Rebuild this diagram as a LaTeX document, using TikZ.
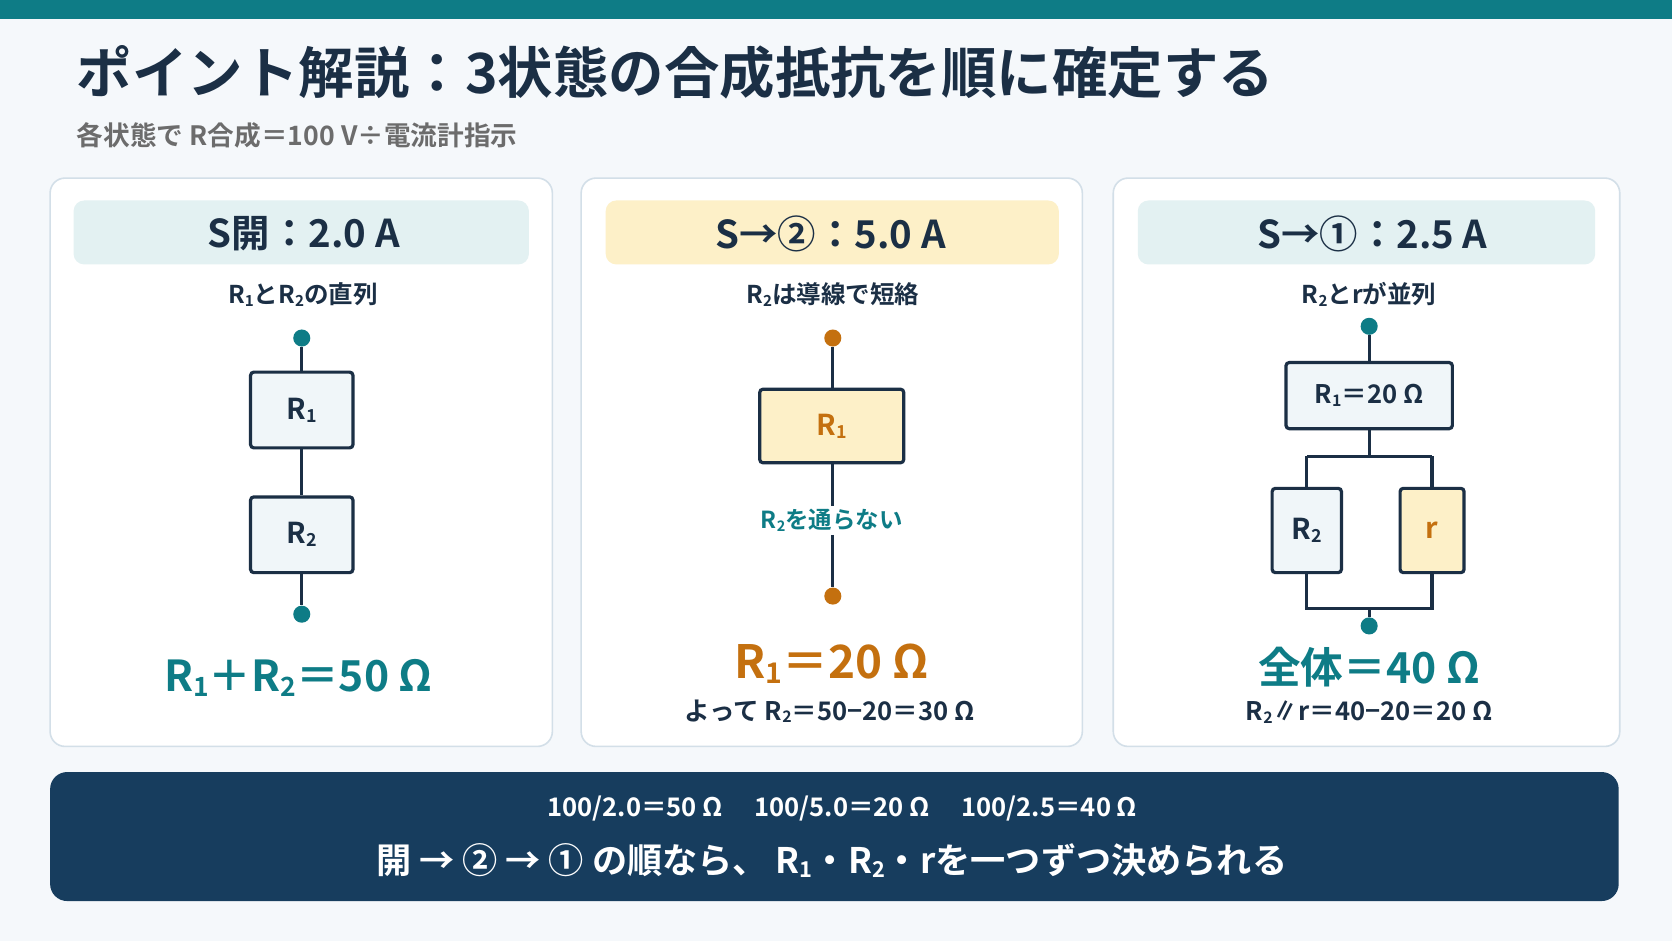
\documentclass[tikz,border=0pt]{standalone}
\usepackage{fontspec}
\setmainfont{Noto Sans CJK JP}[BoldFont={Noto Sans CJK JP Bold}]
\usepackage{graphicx}
\newcommand\sbx[1]{\raisebox{-0.2ex}{\scalebox{0.62}{#1}}}
\definecolor{teal}{HTML}{0E7C86}
\definecolor{navy}{HTML}{173D5E}
\definecolor{ink}{HTML}{1B2F45}
\definecolor{bg}{HTML}{F5F8FB}
\definecolor{hdrT}{HTML}{E3F1F2}
\definecolor{hdrY}{HTML}{FDF0C8}
\definecolor{orn}{HTML}{C4700F}
\definecolor{pborder}{HTML}{D3DFE8}
\definecolor{boxfill}{HTML}{F0F6F9}
\begin{document}
\begin{tikzpicture}[x=1pt,y=-1pt,font=\bfseries,
  panel/.style={draw=pborder,line width=1.5pt,fill=white,rounded corners=14pt},
  hdr/.style={rounded corners=10pt},
  res/.style={draw=ink,line width=3pt,fill=boxfill,rounded corners=3pt,font=\bfseries\fontsize{27}{27}\selectfont,text=ink},
  wire/.style={draw=ink,line width=3pt},
  dot/.style={circle,fill=teal,inner sep=0,minimum size=16pt},
  odot/.style={circle,fill=orn,inner sep=0,minimum size=16pt},
  txt/.style={text=ink,inner sep=0}]
\useasboundingbox (0,0) rectangle (1568,882);
\fill[bg] (0,0) rectangle (1568,882);
\fill[teal] (0,0) rectangle (1568,18);
\node[txt,anchor=west,font=\bfseries\fontsize{52}{52}\selectfont] (title) at (72,68) {ポイント解説：3状態の合成抵抗を順に確定する};
\node[anchor=west,inner sep=0,text=gray!85!black,font=\bfseries\fontsize{25}{25}\selectfont] (sub) at (72,127) {各状態で R合成＝100 V÷電流計指示};
% panels
\draw[panel] (47,167) rectangle (518,700);
\draw[panel] (545,167) rectangle (1015,700);
\draw[panel] (1044,167) rectangle (1519,700);
\fill[hdrT,hdr] (69,188) rectangle (496,248);
\fill[hdrY,hdr] (568,188) rectangle (993,248);
\fill[hdrT,hdr] (1067,188) rectangle (1496,248);
\node[txt,font=\bfseries\fontsize{36}{36}\selectfont] (h1) at (285,219) {S開：2.0 A};
\node[txt,font=\bfseries\fontsize{36}{36}\selectfont] (h2) at (779,219) {S→②：5.0 A};
\node[txt,font=\bfseries\fontsize{36}{36}\selectfont] (h3) at (1287,219) {S→①：2.5 A};
\node[txt,font=\bfseries\fontsize{23}{23}\selectfont] (s1) at (284,276) {R\sbx{1}とR\sbx{2}の直列};
\node[txt,font=\bfseries\fontsize{23}{23}\selectfont] (s2) at (781,276) {R\sbx{2}は導線で短絡};
\node[txt,font=\bfseries\fontsize{23}{23}\selectfont] (s3) at (1284,276) {R\sbx{2}とrが並列};
% panel 1
\node[dot] (a1) at (283,317) {};
\node[res,minimum width=96pt,minimum height=71pt] (r1) at (283,384.5) {R\sbx{1}};
\node[res,minimum width=96pt,minimum height=71pt] (r2) at (283,501.5) {R\sbx{2}};
\node[dot] (b1) at (283,576) {};
\draw[wire] (a1) -- (r1); \draw[wire] (r1) -- (r2); \draw[wire] (r2) -- (b1);
\node[inner sep=0,text=teal,font=\bfseries\fontsize{40}{40}\selectfont] (t1) at (280,636) {R\sbx{1}＋R\sbx{2}＝50 Ω};
% panel 2
\node[odot] (a2) at (781,317) {};
\node[res,fill=hdrY,text=orn,minimum width=135pt,minimum height=69pt] (q1) at (780,399.5) {R\sbx{1}};
\node[inner sep=3pt,fill=white,text=teal,font=\bfseries\fontsize{22}{22}\selectfont] (n2) at (780,488) {R\sbx{2}を通らない};
\node[odot] (b2) at (781,559) {};
\draw[wire] (a2) -- (a2|-q1.north); \draw[wire] (q1.south-|a2) -- (a2|-n2.north); \draw[wire] (a2|-n2.south) -- (b2);
\node[inner sep=0,text=orn,font=\bfseries\fontsize{43}{43}\selectfont] (t2) at (780,622) {R\sbx{1}＝20 Ω};
\node[txt,font=\bfseries\fontsize{24}{24}\selectfont] (u2) at (778,667) {よって R\sbx{2}＝50−20＝30 Ω};
% panel 3
\node[dot] (a3) at (1284,306) {};
\node[res,minimum width=156pt,minimum height=62pt,font=\bfseries\fontsize{24}{24}\selectfont] (p1) at (1284,371) {R\sbx{1}＝20 Ω};
\node[res,minimum width=65pt,minimum height=79pt] (p2) at (1225.5,497.5) {R\sbx{2}};
\node[res,fill=hdrY,text=orn,minimum width=60pt,minimum height=79pt] (p3) at (1343,497.5) {r};
\node[dot] (b3) at (1284,587) {};
\coordinate (j1) at (1284,428); \coordinate (j2) at (1284,571);
\draw[wire] (a3) -- (p1); \draw[wire] (p1) -- (j1);
\draw[wire] (p2.north|-j1) -- (p3.north|-j1);
\draw[wire] (p2.north|-j1) -- (p2.north); \draw[wire] (p3.north|-j1) -- (p3.north);
\draw[wire] (p2.south) -- (p2.south|-j2) -- (p3.south|-j2) -- (p3.south);
\draw[wire] (j2) -- (b3);
\node[inner sep=0,text=teal,font=\bfseries\fontsize{40}{40}\selectfont] (t3) at (1284,626) {全体＝40 Ω};
\node[txt,font=\bfseries\fontsize{24}{24}\selectfont] (u3) at (1284,668) {R\sbx{2}∥r＝40−20＝20 Ω};
% bottom bar
\fill[navy,rounded corners=16pt] (47,724) rectangle (1518,845);
\node[inner sep=0,text=white,font=\bfseries\fontsize{24}{24}\selectfont] (f1) at (790,758) {100/2.0＝50 Ω\quad\ 100/5.0＝20 Ω\quad\ 100/2.5＝40 Ω};
\node[inner sep=0,text=white,font=\bfseries\fontsize{33}{33}\selectfont] (f2) at (780,807) {開 → ② → ① の順なら、 R\sbx{1}・R\sbx{2}・rを一つずつ決められる};
\end{tikzpicture}
\end{document}
